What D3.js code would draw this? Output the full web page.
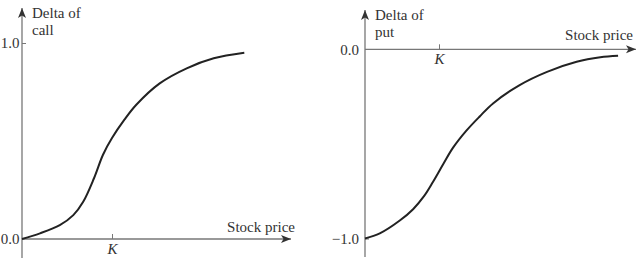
<!DOCTYPE html>
<html>
<head>
<meta charset="utf-8">
<script src="https://cdn.jsdelivr.net/npm/d3@7"></script>
<style>
  body { margin: 0; background: #fff; }
  svg { display: block; }
  svg text { font-family: "Liberation Serif", "DejaVu Serif", serif; }
</style>
</head>
<body>
<svg id="chart" width="640" height="264"></svg>
<script>
// stock price (K = 100) and delta values
const callPrice = [0, 20, 42, 57, 68, 80, 90, 100, 114, 127, 153, 183, 213, 247];
const callDelta = [0, 0.029, 0.071, 0.122, 0.19, 0.31, 0.43, 0.515, 0.61, 0.685, 0.794, 0.871, 0.922, 0.95];
const putPrice = [0, 20, 47, 65, 80, 92, 106, 119, 137, 155, 173, 209, 246, 286, 318, 342];
const putDelta = [-1.0, -0.973, -0.905, -0.845, -0.775, -0.70, -0.605, -0.52, -0.43, -0.355, -0.286, -0.189, -0.119, -0.066, -0.042, -0.034];
const strike = 100;
const callTicks = [0, 1];
const putTicks = [0, -1];

const svg = d3.select("#chart");
const axisColor = "#777";
const inkColor = "#222";
const fontSize = 15;

svg.append("defs").append("marker")
    .attr("id", "arrow")
    .attr("viewBox", "0 0 10 10")
    .attr("refX", 10).attr("refY", 5)
    .attr("markerWidth", 10).attr("markerHeight", 10)
    .attr("markerUnits", "userSpaceOnUse")
    .attr("orient", "auto")
    .append("path").attr("d", "M0,1 L10,5 L0,9 L2.5,5 Z").attr("fill", "#333");

function panel(opt) {
    const x = d3.scaleLinear().domain([0, strike]).range([opt.x0, opt.xK]);
    const y = d3.scaleLinear().domain(opt.yDomain).range(opt.yRange);
    const g = svg.append("g");
    const zeroY = y(0);

    // axes lines with arrows
    g.append("line")
        .attr("x1", opt.x0).attr("x2", opt.x0)
        .attr("y1", opt.yBottom).attr("y2", opt.yTop)
        .attr("stroke", axisColor).attr("stroke-width", 1.3)
        .attr("marker-end", "url(#arrow)");
    g.append("line")
        .attr("x1", opt.x0).attr("x2", opt.xEnd)
        .attr("y1", zeroY).attr("y2", zeroY)
        .attr("stroke", axisColor).attr("stroke-width", 1.3)
        .attr("marker-end", "url(#arrow)");

    // K tick
    const xa = g.append("g").attr("transform", `translate(0,${zeroY})`)
        .call(d3.axisBottom(x).tickValues([strike]).tickSize(-5).tickPadding(4).tickFormat(() => "K"));
    xa.attr("font-family", null);
    xa.select(".domain").remove();
    xa.selectAll(".tick line").attr("stroke", axisColor);
    xa.selectAll(".tick text").attr("font-style", "italic").attr("font-size", fontSize).attr("fill", "#333");

    // y ticks
    const ya = g.append("g").attr("transform", `translate(${opt.x0},0)`)
        .call(d3.axisLeft(y).tickValues(opt.ticks).tickSize(-4).tickPadding(opt.yPad)
            .tickFormat(d => d < 0 ? "\u2212" + d3.format(".1f")(-d) : d3.format(".1f")(d)));
    ya.attr("font-family", null);
    ya.select(".domain").remove();
    ya.selectAll(".tick line").attr("stroke", axisColor).attr("stroke-width", d => d === 0 ? 0 : 1);
    ya.selectAll(".tick text").attr("font-size", fontSize).attr("fill", "#333");

    // curve
    const pts = opt.px.map((p, i) => [p, opt.py[i]]);
    g.append("path")
        .datum(pts)
        .attr("fill", "none")
        .attr("stroke", inkColor)
        .attr("stroke-width", 2)
        .attr("d", d3.line().x(d => x(d[0])).y(d => y(d[1])).curve(d3.curveCatmullRom.alpha(0.5)));

    // labels
    const lab = g.append("text").attr("font-size", fontSize).attr("fill", "#333");
    lab.append("tspan").attr("x", opt.x0 + 10).attr("y", opt.yTop + 10).text("Delta of");
    lab.append("tspan").attr("x", opt.x0 + 10).attr("y", opt.yTop + 27).text(opt.name);
    g.append("text")
        .attr("x", opt.priceX).attr("y", zeroY - opt.priceDy)
        .attr("text-anchor", "end")
        .attr("font-size", fontSize).attr("fill", "#333")
        .text("Stock price");
}

panel({
    x0: 22, xK: 112, xEnd: 291, yTop: 8, yBottom: 258, yPad: 2.5,
    yDomain: [0, 1], yRange: [239, 43], ticks: callTicks,
    px: callPrice, py: callDelta, name: "call", priceX: 295, priceDy: 7
});

panel({
    x0: 365, xK: 439, xEnd: 636, yTop: 10, yBottom: 257, yPad: 6,
    yDomain: [-1, 0], yRange: [238.5, 49.3], ticks: putTicks,
    px: putPrice, py: putDelta, name: "put", priceX: 633, priceDy: 9
});
</script>
</body>
</html>
